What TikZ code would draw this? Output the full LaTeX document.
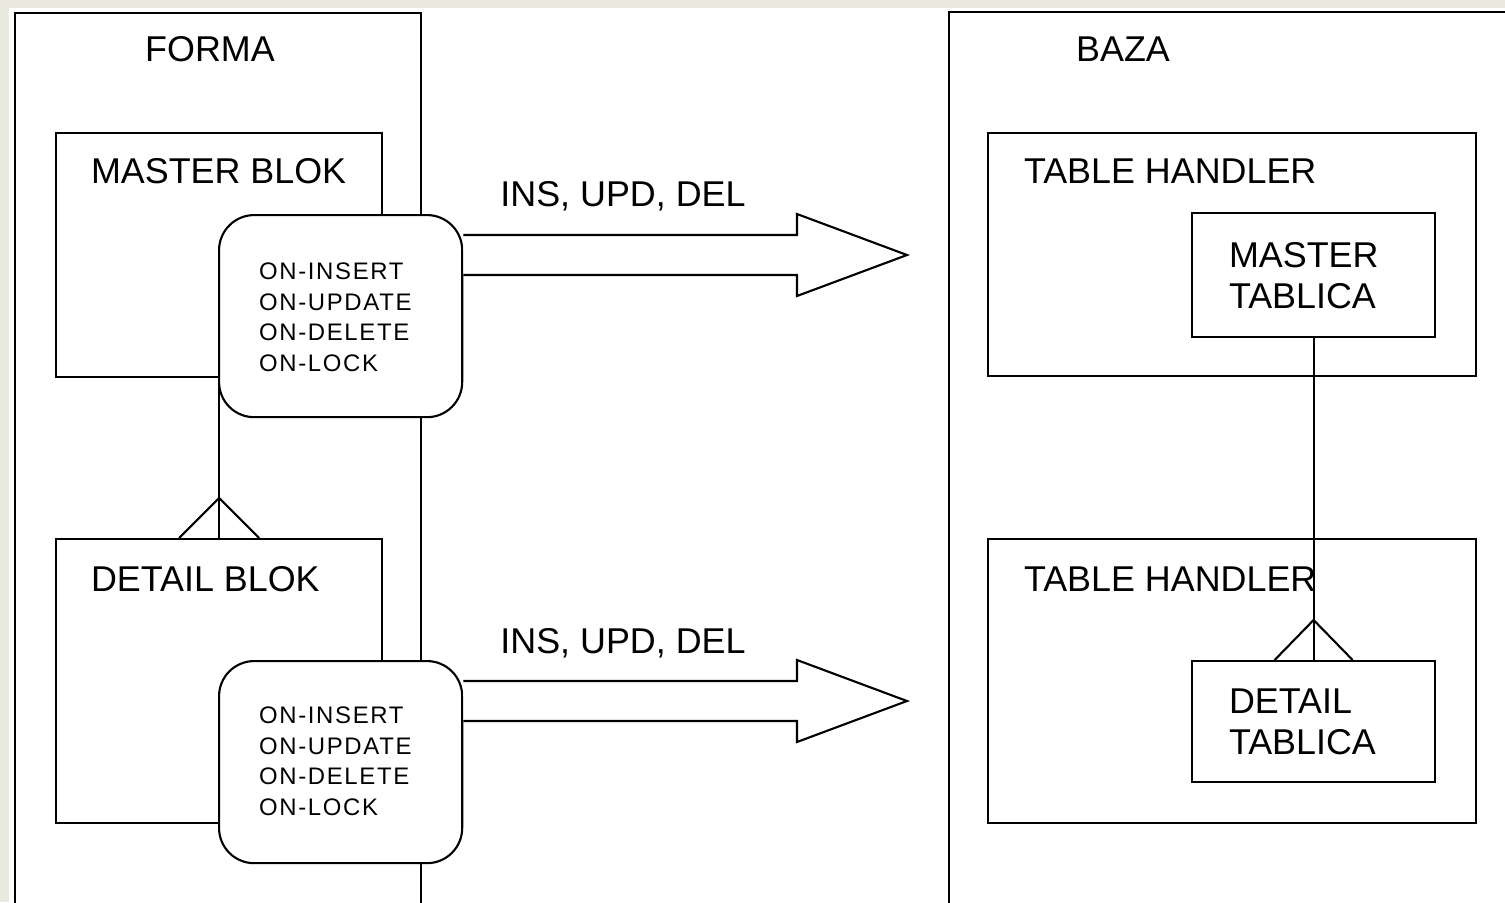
\documentclass[tikz,border=0pt]{standalone}
\usepackage{fontspec}
\setmainfont{Liberation Sans}
\usepackage{xcolor}
\usetikzlibrary{positioning}
\definecolor{framebg}{RGB}{233,233,222}

\begin{document}
\begin{tikzpicture}[x=0.01cm,y=-0.01cm,line width=0.6pt,box/.style={draw,rectangle,fill=white,inner sep=0pt,anchor=north west},trig/.style={box,rounded corners=10pt},lbl/.style={inner sep=0pt,font=\fontsize{10.2}{11.7}\selectfont},trigtxt/.style={inner sep=0pt,anchor=north west,align=left,font=\fontsize{6.8}{8.7}\selectfont\addfontfeature{LetterSpace=7}},fat/.style={draw,fill=white,line join=miter}]
  \useasboundingbox (0,0) rectangle (1505,902);
  \fill[framebg] (0,0) rectangle (1505,902);
  \fill[white] (9,8) rectangle (1505,902);
  % outer frames
  \node[box,minimum width=4.06cm,minimum height=9.3cm] (forma) at (14,12) {};
  \node[box,minimum width=6cm,minimum height=9.3cm] (baza) at (948,11) {};
  % blocks
  \node[box,minimum width=3.26cm,minimum height=2.44cm] (masterblok) at (55,132) {};
  \node[box,minimum width=3.26cm,minimum height=2.84cm] (detailblok) at (55,538) {};
  \node[box,minimum width=4.88cm,minimum height=2.43cm] (handlerA) at (987,132) {};
  \node[box,minimum width=4.88cm,minimum height=2.84cm] (handlerB) at (987,538) {};
  \node[box,minimum width=2.43cm,minimum height=1.24cm] (mastertab) at (1191,212) {};
  \node[box,minimum width=2.43cm,minimum height=1.21cm] (detailtab) at (1191,660) {};
  % labels
  \node[lbl,anchor=base] (formalbl) at (210,61) {FORMA};
  \node[lbl,anchor=base] (bazalbl) at (1123,61) {BAZA};
  \node[lbl,anchor=base west] (masterlbl) at (90,183) {MASTER BLOK};
  \node[lbl,anchor=base west] (detaillbl) at (90,591) {DETAIL BLOK};
  \node[lbl,anchor=base west] (handlerAlbl) at (1023,183) {TABLE HANDLER};
  \node[lbl,anchor=base west] (handlerBlbl) at (1023,591) {TABLE HANDLER};
  \node[lbl,anchor=north west,align=left] (mastertablbl) at (1228,241) {MASTER\\TABLICA};
  \node[lbl,anchor=north west,align=left] (detailtablbl) at (1228,688) {DETAIL\\TABLICA};
  % master-detail links
  \draw (masterblok.south) -- (detailblok.north);
  \draw (detailblok.north) ++(-40,0) -- ++(40,-40) -- ++(40,40);
  \draw (mastertab.south) -- (detailtab.north);
  \draw (detailtab.north) ++(-39,0) -- ++(39,-40) -- ++(39,40);
  % triggers
  \node[trig,minimum width=2.43cm,minimum height=2.02cm] (trgA) at (218,214) {};
  \node[trig,minimum width=2.43cm,minimum height=2.02cm] (trgB) at (218,660) {};
  \node[trigtxt] (trgAtxt) at (258,262) {ON-INSERT\\ON-UPDATE\\ON-DELETE\\ON-LOCK};
  \node[trigtxt] (trgBtxt) at (258,706) {ON-INSERT\\ON-UPDATE\\ON-DELETE\\ON-LOCK};
  % block arrows
  \coordinate (tipA) at (907,255);
  \coordinate (tipB) at (907,701);
  \draw[fat] (trgA.east |- 0,235) -- (797,235) -- (797,214) -- (tipA) -- (797,296) -- (797,275) -- (trgA.east |- 0,275);
  \draw[fat] (trgB.east |- 0,681) -- (797,681) -- (797,660) -- (tipB) -- (797,742) -- (797,721) -- (trgB.east |- 0,721);
  \node[lbl,anchor=base] (insA) at (623,206) {INS, UPD, DEL};
  \node[lbl,anchor=base] (insB) at (623,653) {INS, UPD, DEL};
\end{tikzpicture}
\end{document}
